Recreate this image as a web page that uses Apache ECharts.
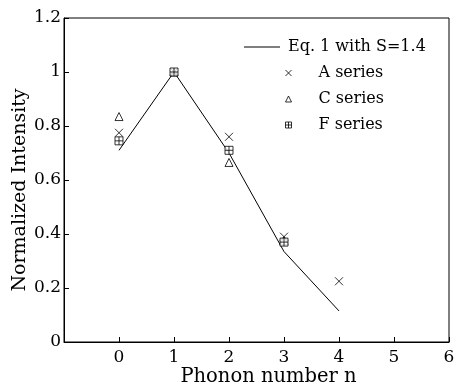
<!DOCTYPE html>
<html><head><meta charset="utf-8">
<script src="https://cdn.jsdelivr.net/npm/echarts@6/dist/echarts.min.js"></script>
<style>html,body{margin:0;padding:0;background:#fff}#c{width:456px;height:387px}</style>
</head><body><div id="c"></div>
<script>
const phononN = [0, 1, 2, 3, 4];
const eqValues = [0.71, 1.0, 0.70, 0.335, 0.115];
const aSeriesN = [0, 1, 2, 3, 4];
const aSeriesValues = [0.775, 1.0, 0.76, 0.39, 0.225];
const cSeriesN = [0, 1, 2, 3];
const cSeriesValues = [0.835, 1.0, 0.665, 0.375];
const fSeriesN = [0, 1, 2, 3];
const fSeriesValues = [0.745, 1.0, 0.71, 0.37];
const xTicks = [0, 1, 2, 3, 4, 5, 6];
const yTicks = [0, 0.2, 0.4, 0.6, 0.8, 1, 1.2];

const FONT = '"DejaVu Serif", serif';
const pair = (xs, ys) => xs.map((x, i) => [x, ys[i]]);
const crossPath = 'path://M0,0L10,10M10,0L0,10';
const boxPath = 'path://M0,0L10,0L10,10L0,10ZM5,0L5,10M0,5L10,5';

const chart = echarts.init(document.getElementById('c'));
chart.setOption({
  animation: false,
  backgroundColor: '#fff',
  textStyle: { fontFamily: FONT, color: '#000' },
  grid: { left: 64, right: 7, top: 18, bottom: 45, show: true, borderColor: '#000', borderWidth: 1,
    containLabel: false, outerBoundsMode: 'none' },
  legend: [
    {
      data: [{ name: 'Eq. 1 with S=1.4', icon: 'rect' }],
      left: 239, top: 34, itemWidth: 36, itemHeight: 1, itemGap: 0,
      itemStyle: { color: '#000', borderWidth: 0 },
      textStyle: { fontFamily: FONT, fontSize: 16, color: '#000', padding: [0, 0, 0, 3] },
      selectedMode: false
    },
    {
      data: ['A series', 'C series', 'F series'],
      orient: 'vertical', left: 278, top: 60, itemWidth: 6, itemHeight: 6, itemGap: 10,
      itemStyle: { borderWidth: 1 },
      textStyle: { fontFamily: FONT, fontSize: 16, color: '#000', padding: [0, 0, 0, 22] },
      selectedMode: false
    }
  ],
  xAxis: {
    type: 'value', min: -1, max: 6, interval: 1,
    name: 'Phonon number n', nameLocation: 'middle', nameGap: 25, nameMoveOverlap: false,
    nameTextStyle: { fontFamily: FONT, fontSize: 19.5, color: '#000', padding: [0, 0, 0, 24] },
    axisLine: { onZero: false, lineStyle: { color: '#000', width: 1 } },
    axisTick: { inside: true, length: 5, lineStyle: { color: '#000' } },
    axisLabel: { fontFamily: FONT, fontSize: 17, color: '#000', margin: 7,
      formatter: v => xTicks.indexOf(v) >= 0 ? String(v) : '' },
    splitLine: { show: false }
  },
  yAxis: {
    type: 'value', min: 0, max: 1.2, interval: 0.2,
    name: 'Normalized Intensity', nameLocation: 'middle', nameGap: 34, nameMoveOverlap: false,
    nameTextStyle: { fontFamily: FONT, fontSize: 19, color: '#000', padding: [0, 20, 0, 0] },
    axisLine: { onZero: false, lineStyle: { color: '#000', width: 1 } },
    axisTick: { inside: true, length: 5, lineStyle: { color: '#000' } },
    axisLabel: { fontFamily: FONT, fontSize: 17, color: '#000', margin: 3,
      formatter: v => { const t = yTicks.find(y => Math.abs(y - v) < 1e-9); return t === undefined ? '' : String(t); } },
    splitLine: { show: false }
  },
  series: [
    {
      name: 'Eq. 1 with S=1.4', type: 'line', data: pair(phononN, eqValues),
      showSymbol: false, symbol: 'none',
      lineStyle: { color: '#000', width: 1 }, itemStyle: { color: '#000' }, z: 1
    },
    {
      name: 'A series', type: 'scatter', data: pair(aSeriesN, aSeriesValues),
      symbol: crossPath, symbolSize: 8,
      itemStyle: { color: 'none', borderColor: '#000', borderWidth: 1 }, z: 3
    },
    {
      name: 'C series', type: 'scatter', data: pair(cSeriesN, cSeriesValues),
      symbol: 'triangle', symbolSize: 8,
      itemStyle: { color: 'none', borderColor: '#000', borderWidth: 1 }, z: 3
    },
    {
      name: 'F series', type: 'scatter', data: pair(fSeriesN, fSeriesValues),
      symbol: boxPath, symbolSize: 8,
      itemStyle: { color: '#fff', borderColor: '#000', borderWidth: 1 }, z: 4
    }
  ]
});
</script></body></html>
